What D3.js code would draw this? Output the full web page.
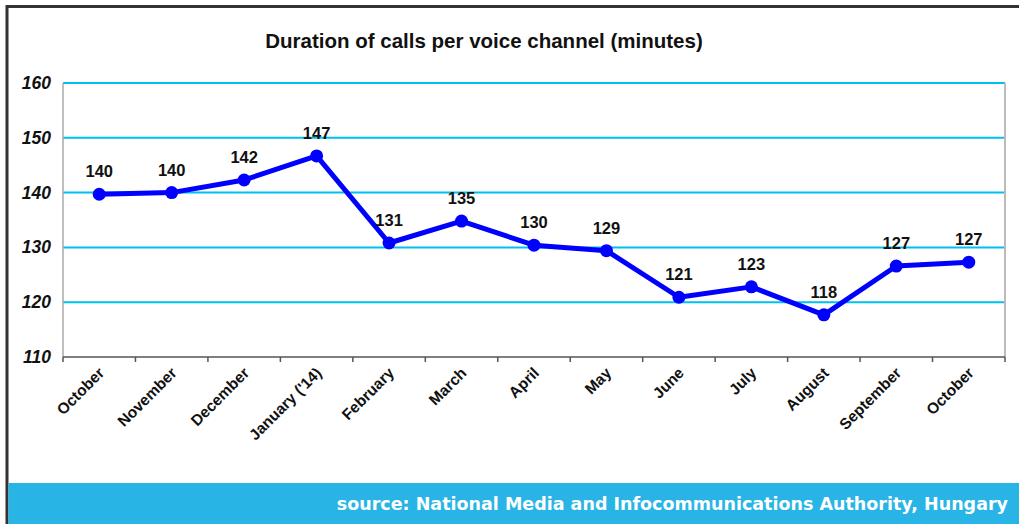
<!DOCTYPE html>
<html>
<head>
<meta charset="utf-8">
<script src="https://cdn.jsdelivr.net/npm/d3@7"></script>
<style>
  body { margin: 0; background: #fff; }
  svg { display: block; }
</style>
</head>
<body>
<script>
// data
const months = ["October", "November", "December", "January ('14)", "February", "March",
  "April", "May", "June", "July", "August", "September", "October"];
const minutes = [139.7, 140.0, 142.3, 146.7, 130.8, 134.8, 130.4, 129.4, 120.9, 122.8, 117.7, 126.6, 127.3];
const yTicks = [110, 120, 130, 140, 150, 160];
const title = "Duration of calls per voice channel (minutes)";
const source = "source: National Media and Infocommunications Authority, Hungary";

const width = 1019, height = 524;
const margin = { top: 83, right: 14, bottom: 167, left: 63 };
const font = "'Liberation Sans', Arial, sans-serif";

const svg = d3.select("body").append("svg")
  .attr("width", width)
  .attr("height", height);

// frame
svg.append("path")
  .attr("d", `M7,${height} V6.5 H${width}`)
  .attr("fill", "none")
  .attr("stroke", "#333")
  .attr("stroke-width", 3);

// scales
const x = d3.scaleBand()
  .domain(d3.range(months.length))
  .range([margin.left, width - margin.right]);

const y = d3.scaleLinear()
  .domain([110, 160])
  .range([height - margin.bottom, margin.top]);

// grid
svg.append("g")
  .selectAll("line")
  .data(yTicks.filter(d => d > 110))
  .join("line")
  .attr("x1", margin.left)
  .attr("x2", width - margin.right)
  .attr("y1", d => y(d))
  .attr("y2", d => y(d))
  .attr("stroke", "#00c0f0")
  .attr("stroke-width", 2);

// plot borders left/right
svg.append("line")
  .attr("x1", margin.left).attr("x2", margin.left)
  .attr("y1", y(160)).attr("y2", y(110))
  .attr("stroke", "#aaa").attr("stroke-width", 1.5);
svg.append("line")
  .attr("x1", width - margin.right).attr("x2", width - margin.right)
  .attr("y1", y(160)).attr("y2", y(110))
  .attr("stroke", "#bbb").attr("stroke-width", 2);

// y axis labels
svg.append("g")
  .selectAll("text")
  .data(yTicks)
  .join("text")
  .attr("x", 51)
  .attr("y", d => y(d) + 6)
  .attr("text-anchor", "end")
  .attr("font-family", font)
  .attr("font-size", 17.5)
  .attr("font-weight", "bold")
  .attr("font-style", "italic")
  .attr("fill", "#111")
  .text(d => d);

// x axis
const xAxis = svg.append("g")
  .attr("transform", `translate(0,${y(110)})`);
xAxis.append("line")
  .attr("x1", margin.left).attr("x2", width - margin.right)
  .attr("stroke", "#555").attr("stroke-width", 1.5);
xAxis.selectAll(".tick")
  .data(d3.range(months.length + 1))
  .join("line")
  .attr("x1", i => margin.left + i * x.step())
  .attr("x2", i => margin.left + i * x.step())
  .attr("y1", 0).attr("y2", 5)
  .attr("stroke", "#555").attr("stroke-width", 1.5);

xAxis.selectAll("text")
  .data(months)
  .join("text")
  .attr("transform", (d, i) => `translate(${x(i) + x.bandwidth() / 2 + 6},${17}) rotate(-45)`)
  .attr("text-anchor", "end")
  .attr("font-family", font)
  .attr("font-size", 15.5)
  .attr("font-weight", "bold")
  .attr("fill", "#111")
  .text(d => d);

// line
const cx = i => x(i) + x.bandwidth() / 2;
const line = d3.line()
  .x((d, i) => cx(i))
  .y(d => y(d));

svg.append("path")
  .datum(minutes)
  .attr("d", line)
  .attr("fill", "none")
  .attr("stroke", "#0000ff")
  .attr("stroke-width", 5)
  .attr("stroke-linejoin", "round");

svg.append("g")
  .selectAll("circle")
  .data(minutes)
  .join("circle")
  .attr("cx", (d, i) => cx(i))
  .attr("cy", d => y(d))
  .attr("r", 6.5)
  .attr("fill", "#0000ff");

// value labels
svg.append("g")
  .selectAll("text")
  .data(minutes)
  .join("text")
  .attr("x", (d, i) => cx(i))
  .attr("y", d => y(d) - 17)
  .attr("text-anchor", "middle")
  .attr("font-family", font)
  .attr("font-size", 16.5)
  .attr("font-weight", "bold")
  .attr("fill", "#111")
  .text(d => d3.format(".0f")(d));

// title
svg.append("text")
  .attr("x", 484)
  .attr("y", 48)
  .attr("text-anchor", "middle")
  .attr("font-family", font)
  .attr("font-size", 20.5)
  .attr("font-weight", "bold")
  .attr("fill", "#111")
  .text(title);

// source banner
svg.append("rect")
  .attr("x", 8.5)
  .attr("y", 483)
  .attr("width", width - 8.5)
  .attr("height", height - 483)
  .attr("fill", "#29b4e6");

svg.append("text")
  .attr("x", 1008)
  .attr("y", 510)
  .attr("text-anchor", "end")
  .attr("font-family", "'DejaVu Sans', Verdana, sans-serif")
  .attr("font-size", 17.5)
  .attr("font-weight", "bold")
  .attr("fill", "#fff")
  .text(source);
</script>
</body>
</html>
